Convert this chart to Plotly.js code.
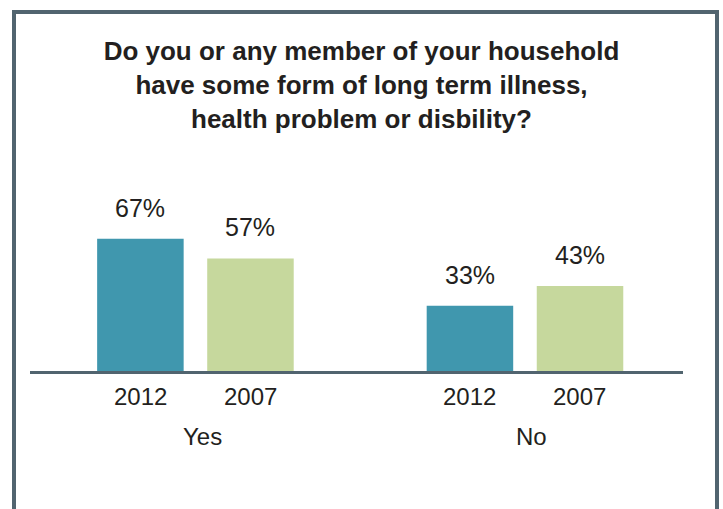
<!DOCTYPE html>
<html>
<head>
<meta charset="utf-8">
<script src="https://cdn.plot.ly/plotly-3.0.1.min.js"></script>
<style>
  html, body { margin: 0; padding: 0; background: #ffffff; }
  #wrap { position: relative; width: 723px; height: 509px; overflow: hidden; }
  #chart { position: absolute; left: 0; top: 0; width: 723px; height: 509px; }
  #frame { position: absolute; left: 12px; top: 10px; width: 699px; height: 600px;
           border: 4px solid #51646f; border-bottom: none; pointer-events: none; }
</style>
</head>
<body>
<div id="wrap">
  <div id="chart"></div>
  <div id="frame"></div>
</div>
<script>
const categories = ["Yes", "No"];
const years = ["2012", "2007"];
const values2012 = [67, 33];
const values2007 = [57, 43];
const titleText = "Do you or any member of your household<br>have some form of long term illness,<br>health problem or disbility?";

const colors = { "2012": "#4097ae", "2007": "#c6d89d" };
const seriesValues = { "2012": values2012, "2007": values2007 };
const textColor = "#231f20";
const baseFont = "Liberation Sans, Arial, Helvetica, sans-serif";

const traces = years.map(yr => ({
  type: "bar",
  name: yr,
  x: categories,
  y: seriesValues[yr],
  marker: { color: colors[yr], line: { width: 0 } },
  hoverinfo: "skip",
  showlegend: false
}));

const shifts = { "2012": -55, "2007": 55 };
const annotations = [];
years.forEach(yr => {
  categories.forEach((cat, i) => {
    const v = seriesValues[yr][i];
    annotations.push({
      x: cat, y: v, xref: "x", yref: "y",
      text: v + "%", showarrow: false,
      xshift: shifts[yr], yshift: 31, yanchor: "middle",
      font: { family: baseFont, size: 25, color: textColor }
    });
    annotations.push({
      x: cat, y: 0, xref: "x", yref: "y",
      text: yr, showarrow: false,
      xshift: shifts[yr], yshift: -25, yanchor: "middle",
      font: { family: baseFont, size: 24, color: textColor }
    });
  });
});
categories.forEach(cat => {
  annotations.push({
    x: cat, y: 0, xref: "x", yref: "y",
    text: cat, showarrow: false,
    xshift: 7, yshift: -65, yanchor: "middle",
    font: { family: baseFont, size: 24, color: textColor }
  });
});

const layout = {
  width: 723, height: 509,
  margin: { l: 30, r: 40, t: 213, b: 138, pad: 0 },
  paper_bgcolor: "#ffffff", plot_bgcolor: "#ffffff",
  barmode: "group",
  bargap: 0.332,
  bargroupgap: 0.214,
  title: {
    text: titleText,
    font: { family: baseFont, size: 26, color: textColor, weight: "bold" },
    x: 0.5, xanchor: "center", xref: "container",
    y: 1 - 60 / 509, yanchor: "middle", yref: "container"
  },
  xaxis: {
    type: "category",
    range: [-0.502, 1.4795],
    showgrid: false, zeroline: false,
    showline: true, linecolor: "#51646f", linewidth: 3,
    ticks: "", showticklabels: false,
    fixedrange: true
  },
  yaxis: {
    range: [0, 80], showgrid: false, zeroline: false, showline: false,
    showticklabels: false, ticks: "", fixedrange: true
  },
  annotations: annotations
};

Plotly.newPlot("chart", traces, layout, { displayModeBar: false, staticPlot: true });
</script>
</body>
</html>
